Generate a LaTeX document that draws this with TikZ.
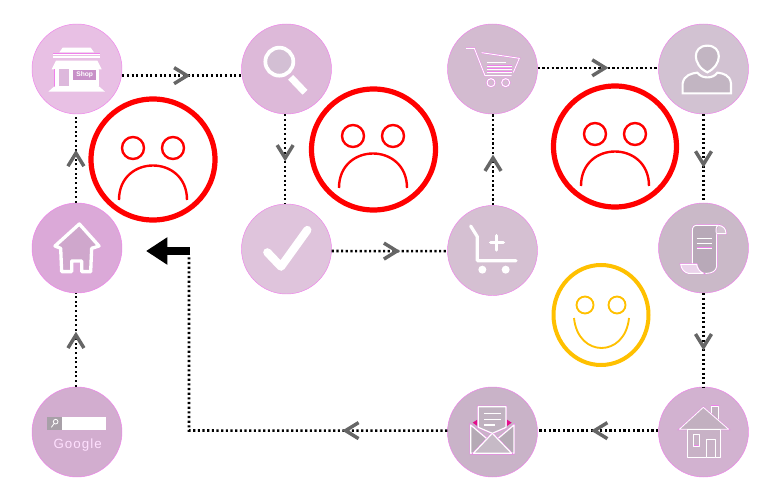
\documentclass[tikz,border=0pt]{standalone}
\usepackage{fontspec}
\setmainfont{Liberation Sans}
\newfontfamily\gfont[LetterSpace=8]{Liberation Sans}
\usetikzlibrary{arrows.meta,decorations.markings}
\definecolor{halo}{HTML}{F080EC}
\definecolor{gold}{HTML}{FFC000}
\definecolor{E8C0E4}{HTML}{E8C0E4}
\definecolor{DDB9D9}{HTML}{DDB9D9}
\definecolor{D3BBD0}{HTML}{D3BBD0}
\definecolor{D2C2D2}{HTML}{D2C2D2}
\definecolor{DBA9D8}{HTML}{DBA9D8}
\definecolor{DFC4DC}{HTML}{DFC4DC}
\definecolor{D5C0D2}{HTML}{D5C0D2}
\definecolor{CAB9C8}{HTML}{CAB9C8}
\definecolor{D2ADCF}{HTML}{D2ADCF}
\definecolor{C9B3C8}{HTML}{C9B3C8}
\definecolor{D2B2D0}{HTML}{D2B2D0}
\definecolor{DDB8DC}{HTML}{DDB8DC}
\definecolor{C890C8}{HTML}{C890C8}
\definecolor{D3BFD4}{HTML}{D3BFD4}
\definecolor{C2B5C2}{HTML}{C2B5C2}
\definecolor{B8A9B8}{HTML}{B8A9B8}
\definecolor{D5C4D3}{HTML}{D5C4D3}
\definecolor{EBD3EB}{HTML}{EBD3EB}
\definecolor{B5AAB5}{HTML}{B5AAB5}
\definecolor{C6BAC6}{HTML}{C6BAC6}
\definecolor{C0B2C0}{HTML}{C0B2C0}
\definecolor{C2B0C0}{HTML}{C2B0C0}
\definecolor{C8B2C6}{HTML}{C8B2C6}
\definecolor{CFA7CC}{HTML}{CFA7CC}
\definecolor{A8A0A8}{HTML}{A8A0A8}
\definecolor{FFE0FF}{HTML}{FFE0FF}
\tikzset{
  stage/.style={circle,minimum size=67.5pt,inner sep=0pt,draw=halo,line width=.35pt,fill=#1},
  conn/.style={draw=black,line width=1.9pt,dash pattern=on 1.6pt off 1.9pt},
  chevat/.style={postaction={decorate,decoration={markings,mark=at position #1 with {\draw[draw=black!60,line width=2.6pt,solid,line cap=butt,line join=miter] (-13,8)--(0,0)--(-13,-8);}}}},
  zoomed/.style={x=.25pt,y=-.25pt},
  ic/.style={draw=white,line width=#1,preaction={draw=halo,line width=#1+.55pt},line join=round},
  ic/.default=1.5pt,
  sad/.style={draw=red,line width=3.9pt},
  sadthin/.style={draw=red,line width=1.8pt},
  happy/.style={draw=gold,line width=3pt},
  happythin/.style={draw=gold,line width=1.4pt},
}
\begin{document}
\begin{tikzpicture}[x=.75pt,y=-.75pt]
\useasboundingbox (0,0) rectangle (772,499);
% stages
\node[stage=E8C0E4] (shop) at (77,69) {};
\node[stage=DDB9D9] (search) at (286.5,69) {};
\node[stage=D3BBD0] (cart) at (492.5,69) {};
\node[stage=D2C2D2] (user) at (703.5,69) {};
\node[stage=DBA9D8] (home) at (77,248) {};
\node[stage=DFC4DC] (check) at (286.5,249) {};
\node[stage=D5C0D2] (cartplus) at (492.5,250.5) {};
\node[stage=CAB9C8] (scroll) at (703.5,248) {};
\node[stage=D2ADCF] (google) at (77,432) {};
\node[stage=C9B3C8] (mail) at (492.5,432) {};
\node[stage=D2B2D0] (house) at (703.5,432) {};
\coordinate (corner) at (189,430.5);
\coordinate (barend) at (189,256);
\coordinate (barstart) at (190,251);
\coordinate (bartip) at (146,251);
% connectors
\draw[conn,chevat=0.545] ([yshift=-5pt]shop.east) -- ([yshift=-5pt]search.west);
\draw[conn,chevat=0.49] ([xshift=-1pt]search.south) -- ([xshift=-1pt]check.north);
\draw[conn,chevat=0.564] ([yshift=-1.5pt]check.east) -- ([yshift=-.5pt]cartplus.west);
\draw[conn,chevat=0.52] ([xshift=.4pt]cartplus.north) -- ([xshift=.4pt]cart.south);
\draw[conn,chevat=0.56] ([yshift=.9pt]cart.east) -- ([yshift=.9pt]user.west);
\draw[conn,chevat=0.565] (user.south) -- (scroll.north);
\draw[conn,chevat=0.575] (scroll.south) -- (house.north);
\draw[conn,chevat=0.53] ([yshift=1pt]house.west) -- ([yshift=1pt]mail.east);
\draw[conn,chevat=0.235] ([yshift=1pt]mail.west) -- (corner) -- (barend);
\draw[line width=6pt,-{Triangle[length=16pt,width=19.5pt]}] (barstart) -- (bartip);
\draw[conn,chevat=0.553] ([xshift=-.8pt]google.north) -- ([xshift=-.8pt]home.south);
\draw[conn,chevat=0.56] ([xshift=-.8pt]home.north) -- ([xshift=-.8pt]shop.south);
% faces
\draw[sad] (153,159.5) ellipse [x radius=62,y radius=60.5];
\draw[sadthin] (133,148) circle [radius=11] (173,148) circle [radius=11];
\draw[sadthin] (119,200) .. controls (119,154) and (187,154) .. (187,200);
\draw[sad] (373.5,149.5) ellipse [x radius=62,y radius=60.5];
\draw[sadthin] (353,136) circle [radius=11] (393,136) circle [radius=11];
\draw[sadthin] (339,188) .. controls (339,142) and (407,142) .. (407,188);
\draw[sad] (615,146.5) ellipse [x radius=61.5,y radius=60.5];
\draw[sadthin] (595,134) circle [radius=11] (635,134) circle [radius=11];
\draw[sadthin] (581,186) .. controls (581,140) and (649,140) .. (649,186);
\draw[happy] (601,315) ellipse [x radius=47.5,y radius=50];
\draw[happythin] (585,305) circle [radius=8.5] (617,305) circle [radius=8.5];
\draw[happythin] (574,318) .. controls (578,358) and (625,358) .. (629,318);
% shop icon
\begin{scope}[shift={(20,10)},zoomed]
\fill[white] (128,113)--(212,113)--(222,127)--(118,127)--cycle;
\draw[ic=.8pt] (100,133)--(240,133) (100,141)--(240,141);
\fill[white] (108,152)--(232,152)--(245,178)--(95,178)--cycle;
\draw[ic=.6pt,fill=white] (105,178) rectangle (235,230);
\fill[white] (85,245)--(255,245)--(238,230)--(102,230)--cycle;
\fill[DDB8DC] (117,178) rectangle (148,228);
\fill[C890C8] (160,180) rectangle (228,210);
\node[text=white,font=\bfseries\fontsize{5pt}{5pt}\selectfont,inner sep=0pt] (shoptext) at (194,195) {Shop};
\end{scope}
% search icon
\begin{scope}[shift={(235,15)},zoomed]
\draw[draw=white,line width=2.8pt,fill=D3BFD4] (133,140) circle [radius=42];
\draw[draw=white,line width=5.2pt] (167,187)--(210,232);
\end{scope}
% check icon
\begin{scope}[shift={(235,15)},zoomed]
\draw[draw=white,line width=6.2pt,line cap=round,line join=round] (97,712)--(138,755)--(217,645);
\end{scope}
% cart icon
\begin{scope}[shift={(440,15)},zoomed]
\draw[ic=.7pt] (78,100)--(103,100)--(135,182)--(215,182);
\draw[ic=.7pt] (125,113)--(238,130)--(220,172);
\draw[ic=.7pt] (140,143)--(197,143) (140,153)--(215,153) (140,163)--(215,163) (140,172)--(215,172);
\draw[ic=.8pt] (153,203) circle [radius=12] (197,203) circle [radius=12];
% user icon
\draw[draw=white,line width=1.6pt,fill=C2B5C2] (802,172) .. controls (756,150) and (756,92) .. (802,92) .. controls (848,92) and (848,150) .. (802,172) -- cycle;
\draw[draw=white,line width=1.6pt,fill=C2B5C2] (728,235) -- (728,205) .. controls (732,180) and (755,175) .. (772,173) .. controls (785,192) and (820,192) .. (832,173) .. controls (850,175) and (870,180) .. (873,205) -- (873,235) -- cycle;
\end{scope}
% cart plus icon
\begin{scope}[shift={(440,195)},zoomed]
\draw[draw=white,line width=2.4pt,line cap=round,line join=round] (92,93)--(112,125)--(112,197)--(228,197);
\draw[draw=white,line width=2.6pt,line cap=round] (152,143)--(190,143) (170,122)--(170,165);
\fill[white] (127,224) circle [radius=12] (197,224) circle [radius=12];
% scroll icon
\draw[ic=.7pt,fill=B8A9B8] (757,108) .. controls (757,95) and (762,91) .. (772,91) -- (835,91) .. controls (825,95) and (828,110) .. (830,118) -- (830,215) .. controls (828,228) and (815,235) .. (800,235) -- (790,235) .. controls (778,230) and (772,220) .. (770,208) -- (757,208) -- cycle;
\draw[ic=.7pt,fill=D5C4D3] (835,91) .. controls (850,92) and (858,102) .. (858,116) -- (830,116);
\draw[ic=.7pt,fill=EBD3EB] (722,208) -- (770,208) .. controls (772,220) and (778,230) .. (790,235) -- (745,235) .. controls (732,232) and (724,222) .. (722,208) -- cycle;
\draw[ic=.7pt] (770,131)--(815,131) (770,146)--(815,146) (770,160)--(815,160);
\end{scope}
% mail icon
\begin{scope}[shift={(440,380)},zoomed]
\fill[magenta!90!violet] (98,128)--(112,119)--(112,138)--cycle (215,128)--(201,119)--(201,138)--cycle;
\draw[ic=.9pt,fill=B5AAB5] (92,135)--(92,220)--(222,220)--(222,135)--(157,190)--cycle;
\draw[ic=.9pt,fill=C6BAC6] (100,220)--(157,160)--(215,220)--cycle;
\draw[ic=.9pt,fill=C0B2C0] (115,142)--(115,80)--(198,80)--(198,142)--(157,160)--cycle;
\draw[draw=white,line width=.9pt] (132,100)--(182,100) (132,118)--(182,118) (132,135)--(165,135);
% house icon
\draw[ic=.6pt,fill=C2B0C0] (815,105)--(815,78)--(836,78)--(836,125);
\draw[ic=.6pt,fill=C2B0C0] (718,148)--(790,82)--(866,148)--cycle;
\draw[ic=.6pt,fill=C8B2C6] (742,148) rectangle (842,232);
\draw[ic=.6pt] (760,163) rectangle (778,198);
\draw[ic=.6pt] (800,178) rectangle (826,232);
\end{scope}
% home icon and search bar
\begin{scope}[shift={(20,200)},zoomed]
\draw[draw=white,line width=2.5pt,fill=CFA7CC,line join=round] (178,72)--(237,138)--(215,145)--(212,215)--(185,215)--(185,183)--(155,183)--(155,215)--(125,215)--(122,145)--(105,138)--cycle;
\fill[white] (80,650) rectangle (258,690);
\fill[A8A0A8] (80,650) rectangle (127,690);
\draw[white,line width=.6pt] (107,665) circle [radius=7] (102,671)--(94,682);
\node[text=FFE0FF,font=\gfont\fontsize{10pt}{10pt}\selectfont,inner sep=0pt] (googletext) at (173,736) {Google};
\end{scope}
\end{tikzpicture}
\end{document}
